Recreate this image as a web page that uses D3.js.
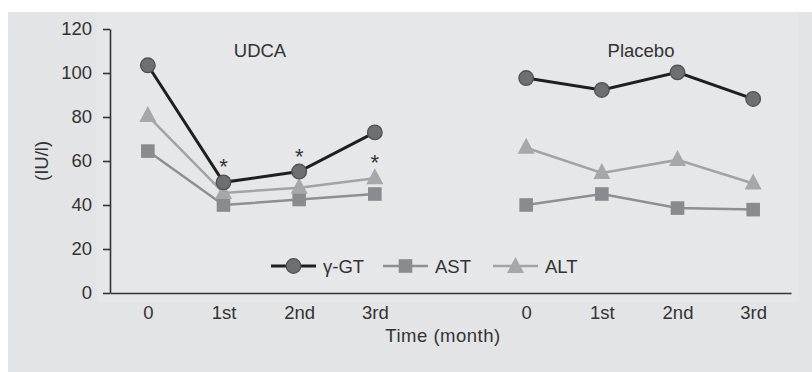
<!DOCTYPE html>
<html>
<head>
<meta charset="utf-8">
<script src="https://cdn.jsdelivr.net/npm/d3@7/dist/d3.min.js"></script>
<style>
  html, body { margin: 0; padding: 0; background: #ffffff; }
  svg { display: block; }
  text { font-family: "Liberation Sans", Arial, sans-serif; fill: #333; }
</style>
</head>
<body>
<svg id="chart" width="812" height="372"></svg>
<script>
// Liver enzymes over time, UDCA vs placebo groups
const timeLabels = ["0", "1st", "2nd", "3rd"];
const groups = ["UDCA", "Placebo"];
const yTicks = [0, 20, 40, 60, 80, 100, 120];

const ggtUDCA = [103.5, 50.3, 55.2, 73];
const astUDCA = [64.5, 40, 42.5, 45];
const altUDCA = [80.5, 45.5, 47.8, 52.2];

const ggtPlacebo = [97.7, 92.3, 100.3, 88.2];
const astPlacebo = [40, 45, 38.6, 37.9];
const altPlacebo = [66, 54.6, 60.5, 49.8];

// significance markers (UDCA group) by month index
const sigIdx = [1, 2, 3];

const svg = d3.select("#chart");

// panel backgrounds
svg.append("rect").attr("x", 8).attr("y", 12).attr("width", 804).attr("height", 360).attr("fill", "#e3e4e6");
svg.append("rect").attr("x", 97).attr("y", 12).attr("width", 701).attr("height", 290).attr("fill", "#e6e7e9");

// slots: UDCA at 0..3, Placebo at 5..8
const slotOffset = [0, 5];
const x = d3.scaleLinear().domain([-0.5, 8.5]).range([110, 791]);
const y = d3.scaleLinear().domain([0, 120]).range([293, 29]);

const styles = {
  "γ-GT": { line: "#1f1f1f", width: 3, fill: "#6e6f72", stroke: "#505153", shape: "circle" },
  "AST":  { line: "#8e8f91", width: 2.5, fill: "#8a8b8e", stroke: "none", shape: "square" },
  "ALT":  { line: "#a2a3a5", width: 2.5, fill: "#a6a7a9", stroke: "none", shape: "triangle" }
};

const data = [
  { group: 0, name: "AST", values: astUDCA },
  { group: 0, name: "ALT", values: altUDCA },
  { group: 0, name: "γ-GT", values: ggtUDCA },
  { group: 1, name: "AST", values: astPlacebo },
  { group: 1, name: "ALT", values: altPlacebo },
  { group: 1, name: "γ-GT", values: ggtPlacebo }
];

// y axis
const yAxis = svg.append("g")
  .attr("transform", `translate(${x.range()[0]},0)`)
  .call(d3.axisLeft(y).tickValues(yTicks).tickSize(7).tickSizeOuter(0).tickPadding(11));
yAxis.select(".domain").attr("stroke", "#333").attr("stroke-width", 1.6);
yAxis.selectAll(".tick line").attr("stroke", "#333").attr("stroke-width", 1.6);
yAxis.selectAll(".tick text").style("font-size", "18.5px").attr("fill", "#333");

// x axis
const slots = [];
groups.forEach((g, gi) => timeLabels.forEach((t, ti) => slots.push({ pos: slotOffset[gi] + ti, label: t })));
const xAxis = svg.append("g")
  .attr("transform", `translate(0,${y(0)})`)
  .call(d3.axisBottom(x).tickValues(slots.map(s => s.pos))
    .tickFormat((d, i) => slots[i].label).tickSize(0).tickSizeOuter(0).tickPadding(13));
xAxis.select(".domain").attr("stroke", "#333").attr("stroke-width", 1.6);
xAxis.selectAll(".tick text").style("font-size", "18.5px").attr("fill", "#333");

// axis titles
svg.append("text")
  .attr("transform", `translate(48,${(y(60))}) rotate(-90)`)
  .attr("text-anchor", "middle")
  .style("font-size", "18.5px")
  .text("(IU/l)");

svg.append("text")
  .attr("x", 443).attr("y", 342)
  .attr("text-anchor", "middle")
  .style("font-size", "18.5px")
  .style("letter-spacing", "0.5px")
  .text("Time (month)");

// group titles
svg.append("text").attr("x", 260).attr("y", 57).attr("text-anchor", "middle")
  .style("font-size", "18.5px").text(groups[0]);
svg.append("text").attr("x", 641).attr("y", 57).attr("text-anchor", "middle")
  .style("font-size", "18.5px").text(groups[1]);

function drawMarker(sel, name, cx, cy) {
  const s = styles[name];
  if (s.shape === "circle") {
    sel.append("circle").attr("cx", cx).attr("cy", cy).attr("r", 7.3)
      .attr("fill", s.fill).attr("stroke", s.stroke).attr("stroke-width", 1.3);
  } else if (s.shape === "square") {
    sel.append("rect").attr("x", cx - 6.8).attr("y", cy - 6.8).attr("width", 13.6).attr("height", 13.6)
      .attr("fill", s.fill);
  } else {
    sel.append("path")
      .attr("d", `M${cx},${cy - 10} L${cx + 8.5},${cy + 6} L${cx - 8.5},${cy + 6} Z`)
      .attr("fill", s.fill);
  }
}

const line = d3.line().x(d => x(d.pos)).y(d => y(d.v));

data.forEach(ser => {
  const pts = ser.values.map((v, i) => ({ pos: slotOffset[ser.group] + i, v }));
  const s = styles[ser.name];
  const g = svg.append("g");
  g.append("path").attr("d", line(pts)).attr("fill", "none")
    .attr("stroke", s.line).attr("stroke-width", s.width);
  pts.forEach(p => drawMarker(g, ser.name, x(p.pos), y(p.v)));
});

// asterisks: above γ-GT where it is the nearest mark, otherwise above ALT
sigIdx.forEach(i => {
  const ref = ggtUDCA[i] >= 70 ? altUDCA[i] : ggtUDCA[i];
  svg.append("text")
    .attr("x", x(slotOffset[0] + i)).attr("y", y(ref) - 8)
    .attr("text-anchor", "middle")
    .style("font-size", "22px")
    .text("*");
});

// legend
const legend = svg.append("g");
const legendItems = [
  { name: "γ-GT", x0: 271 },
  { name: "AST", x0: 383 },
  { name: "ALT", x0: 493 }
];
const ly = 266;
legendItems.forEach(it => {
  const s = styles[it.name];
  legend.append("line").attr("x1", it.x0).attr("x2", it.x0 + 45).attr("y1", ly).attr("y2", ly)
    .attr("stroke", s.line).attr("stroke-width", s.width);
  drawMarker(legend, it.name, it.x0 + 22.5, ly + (s.shape === "triangle" ? 1 : 0));
  legend.append("text").attr("x", it.x0 + 52).attr("y", ly + 6.5)
    .style("font-size", "18.5px").text(it.name);
});
</script>
</body>
</html>
